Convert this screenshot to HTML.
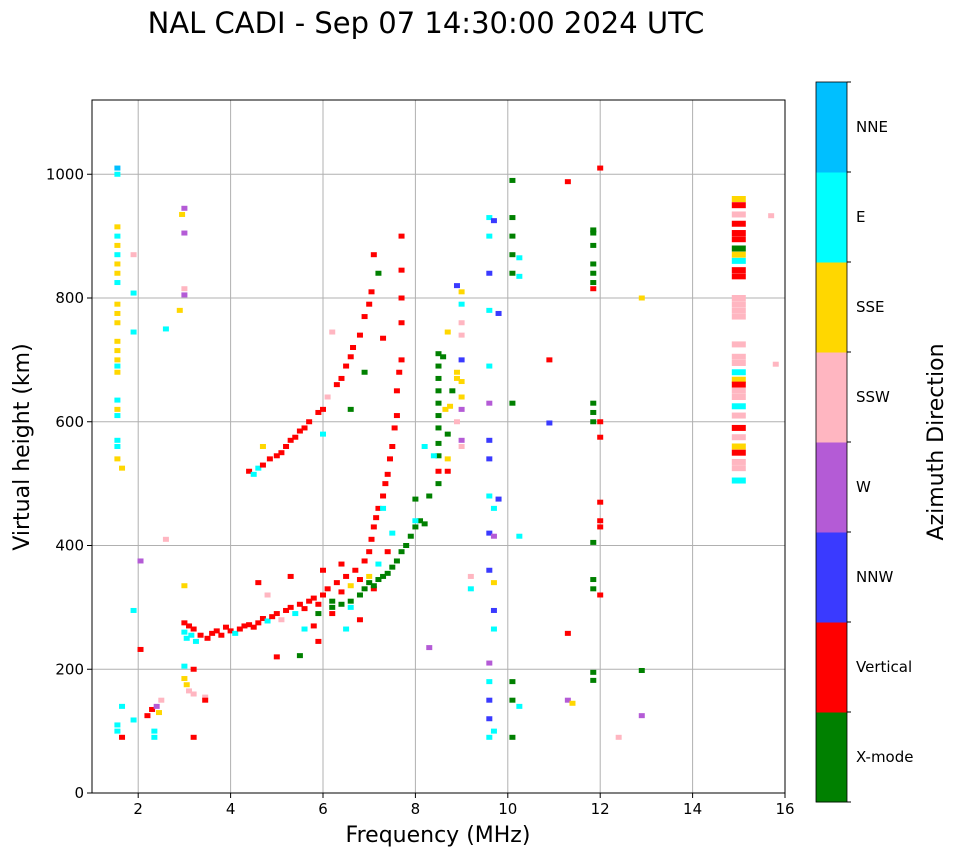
<!DOCTYPE html>
<html><head><meta charset="utf-8">
<style>
body{margin:0;background:#fff;font-family:"DejaVu Sans","Liberation Sans",sans-serif;}
svg text{font-family:"DejaVu Sans","Liberation Sans",sans-serif;}
</style></head>
<body>
<svg id="chart" width="958" height="857" xmlns="http://www.w3.org/2000/svg">
<rect width="958" height="857" fill="#fff"/>
<text x="426" y="33" font-size="29" text-anchor="middle">NAL CADI - Sep 07 14:30:00 2024 UTC</text>
<g id="grid"></g>
<g id="marks"></g>
<rect x="92" y="100" width="693" height="693" fill="none" stroke="#000" stroke-width="1"/>
<g id="axes"></g>
<text x="438" y="842" font-size="22" text-anchor="middle">Frequency (MHz)</text>
<text transform="translate(29,447) rotate(-90)" font-size="22" text-anchor="middle">Virtual height (km)</text>
<g id="colorbar"></g>
<text transform="translate(943,442) rotate(-90)" font-size="22" text-anchor="middle">Azimuth Direction</text>
</svg>
<script>
const xTicks=[2,4,6,8,10,12,14,16];
const yTicks=[0,200,400,600,800,1000];
const dirNames=["X-mode","Vertical","NNW","W","SSW","SSE","E","NNE"];
const dirColors=["#008000","#ff0000","#3a3aff","#b45bd6","#ffb6c1","#ffd700","#00ffff","#00bfff"];
const freqs=[1.55,1.55,1.55,1.55,1.55,1.55,1.55,1.55,1.55,1.55,1.55,1.55,1.55,1.55,1.55,1.55,1.55,1.55,1.55,1.55,1.55,1.55,1.55,1.65,1.55,1.55,1.65,1.65,1.9,1.9,1.9,1.9,1.9,2.05,2.05,2.2,2.3,2.4,2.45,2.35,2.35,2.5,2.6,2.6,2.9,2.95,3.0,3.0,3.0,3.0,3.0,3.0,3.0,3.05,3.1,3.15,3.2,3.25,3.0,3.0,3.05,3.1,3.2,3.2,3.2,3.45,3.45,
3.35,3.5,3.6,3.7,3.8,3.9,4.0,4.1,4.2,4.3,4.4,4.5,4.6,4.7,4.8,4.9,5.0,5.1,5.2,5.3,5.4,5.5,5.6,5.7,5.8,5.9,6.0,6.1,6.2,6.3,6.4,6.5,6.6,6.7,6.8,6.9,7.0,7.05,7.1,7.15,7.2,7.3,7.35,7.4,7.45,7.5,7.55,7.6,7.6,7.65,7.7,7.7,7.7,7.7,7.7,
4.6,4.8,5.0,5.3,5.6,5.9,6.0,6.5,6.6,6.8,7.0,7.1,7.2,7.4,7.5,7.3,6.4,6.2,5.8,
5.5,5.9,6.2,6.4,6.6,6.8,6.9,7.0,7.1,7.2,7.3,7.4,7.5,7.6,7.7,7.8,7.9,8.0,8.1,8.2,
8.5,8.5,8.5,8.5,8.5,8.5,8.5,8.5,8.5,8.5,8.5,8.4,8.3,8.2,8.0,8.65,8.7,8.7,8.7,8.7,8.8,8.9,8.9,8.9,9.0,9.0,9.0,9.0,9.0,9.0,9.0,9.0,9.0,9.0,8.6,8.9,8.75,8.0,8.3,9.2,9.2,
4.4,4.5,4.6,4.7,4.85,5.0,5.1,5.2,5.3,5.4,5.5,5.6,5.7,5.9,6.0,6.1,6.0,6.3,6.4,6.5,6.6,6.65,6.8,6.9,7.0,7.05,6.2,6.6,6.9,7.1,7.2,7.3,4.7,
9.6,9.6,9.7,9.6,9.6,9.8,9.6,9.6,9.6,9.6,9.6,9.8,9.7,9.6,9.7,9.6,9.7,9.7,9.7,9.6,9.6,9.6,9.6,9.7,9.6,10.1,10.1,10.1,10.1,10.1,10.25,10.25,10.1,10.25,10.1,10.1,10.25,10.1,10.9,10.9,11.3,11.3,11.3,11.4,11.85,11.85,11.85,11.85,11.85,11.85,11.85,11.85,11.85,11.85,11.85,11.85,11.85,11.85,11.85,12.0,12.0,12.0,12.0,12.0,12.0,12.0,12.4,12.9,12.9,12.9,15.7,15.8,
15,15,15,15,15,15,15,15,15,15,15,15,15,15,15,15,15,15,15,15,15,15,15,15,15,15,15,15,15,15,15,15];
const heights=[1010,1000,915,900,885,870,855,840,825,790,775,760,730,715,700,690,680,635,620,610,570,560,540,525,110,100,90,140,870,808,745,295,118,375,232,125,135,140,130,100,90,150,410,750,780,935,945,905,815,805,335,275,260,250,270,255,265,245,205,185,175,165,160,200,90,155,150,
255,250,258,262,255,268,262,258,265,270,272,268,275,282,278,285,290,280,295,300,290,305,298,310,315,305,320,330,310,340,325,350,335,360,345,375,390,410,430,445,460,480,500,515,540,560,590,610,650,680,700,760,800,845,900,
340,320,220,350,265,245,360,265,300,280,350,330,370,390,420,460,370,290,270,
222,290,300,305,310,320,330,340,335,345,350,355,365,375,390,400,415,430,440,435,
710,690,670,650,630,610,590,565,545,520,500,545,480,560,475,620,580,540,745,520,650,820,680,600,790,810,760,740,700,665,640,620,570,560,705,670,625,440,235,330,350,
520,515,525,530,540,545,550,560,570,575,585,590,600,615,620,640,580,660,670,690,705,720,740,770,790,810,745,620,680,870,840,735,560,
930,900,925,840,780,775,690,630,570,540,480,475,460,420,415,360,340,295,265,210,180,150,120,100,90,990,930,900,870,840,835,865,630,415,180,150,140,90,700,598,988,258,150,145,910,905,885,855,840,825,815,630,615,600,405,345,330,195,182,1010,600,575,470,440,430,320,90,800,198,125,933,693,
960,950,935,920,905,895,880,870,860,845,835,800,790,780,770,725,705,695,680,668,660,650,640,625,610,590,575,560,550,535,525,505];
const dirs=[7,6,5,6,5,6,5,5,6,5,5,5,5,5,5,6,5,6,5,6,6,6,5,5,6,6,1,6,4,6,6,6,6,3,1,1,1,3,5,6,6,4,4,6,5,5,3,3,4,3,5,1,6,6,1,6,1,6,6,5,5,4,4,1,1,4,1,
1,1,1,1,1,1,1,6,1,1,1,1,1,1,6,1,1,4,1,1,6,1,1,1,1,1,1,1,0,1,1,1,5,1,1,1,1,1,1,1,1,1,1,1,1,1,1,1,1,1,1,1,1,1,1,
1,4,1,1,6,1,1,6,6,1,5,1,6,1,6,6,1,1,1,
0,0,0,0,0,0,0,0,0,0,0,0,0,0,0,0,0,0,0,0,
0,0,0,0,0,0,0,0,0,1,0,6,0,6,0,5,0,5,5,1,0,2,5,4,6,5,4,4,2,5,5,3,3,4,0,5,5,6,3,6,4,
1,6,6,1,1,1,1,1,1,1,1,1,1,1,1,4,6,1,1,1,1,1,1,1,1,1,4,0,0,1,0,1,5,
6,6,2,2,6,2,6,3,2,2,6,2,6,2,3,2,5,2,6,3,6,2,2,6,6,0,0,0,0,0,6,6,0,6,0,0,6,0,1,2,1,1,3,5,0,0,0,0,0,0,1,0,0,0,0,0,0,0,0,1,1,1,1,1,1,1,4,5,0,3,4,4,
5,1,4,1,1,1,0,5,6,1,1,4,4,4,4,4,4,4,6,5,1,4,4,6,4,1,4,5,1,4,4,6];
const NS="http://www.w3.org/2000/svg";
const X0=92,X1=785,Y0=793,Y1=100;
function xs(f){return X0+(f-1)/(16-1)*(X1-X0);}
function ys(h){return Y0-(h/1120)*(Y0-Y1);}
function mk(tag,attrs,parent){const e=document.createElementNS(NS,tag);for(const k in attrs)e.setAttribute(k,attrs[k]);parent.appendChild(e);return e;}
const grid=document.getElementById('grid'),axes=document.getElementById('axes'),marks=document.getElementById('marks'),cb=document.getElementById('colorbar');
xTicks.forEach(t=>{const x=xs(t);
 if(t<16){const g=mk('line',{x1:x,x2:x,y1:Y1,y2:Y0,stroke:'#b0b0b0','stroke-width':1},grid);
 
 }
 mk('line',{x1:x,x2:x,y1:Y0,y2:Y0+5,stroke:'#000'},axes);
 const tx=mk('text',{x:x,y:Y0+21,'font-size':15,'text-anchor':'middle'},axes);tx.textContent=t;
 
 });
yTicks.forEach(t=>{const y=ys(t);
 if(t>0){const g=mk('line',{x1:X0,x2:X1,y1:y,y2:y,stroke:'#b0b0b0','stroke-width':1},grid);
 
 }
 mk('line',{x1:X0-5,x2:X0,y1:y,y2:y,stroke:'#000'},axes);
 const tx=mk('text',{x:X0-8,y:y+5,'font-size':15,'text-anchor':'end'},axes);tx.textContent=t;
 
 });
for(let i=0;i<freqs.length;i++){
 const big=(freqs[i]>14.9&&freqs[i]<15.1);
 const w=big?14:6,h=big?6:5;
 const r=mk('rect',{x:xs(freqs[i])-w/2,y:ys(heights[i])-h/2,width:w,height:h,fill:dirColors[dirs[i]]},marks);
 
 }
const CX=816,CW=31,CT=82,CB=802,seg=(CB-CT)/dirNames.length;
dirNames.forEach((n,i)=>{const yTop=CB-(i+1)*seg;
 const r=mk('rect',{x:CX,y:yTop,width:CW,height:seg+0.5,fill:dirColors[i]},cb);
 
 
 const tx=mk('text',{x:CX+CW+9,y:yTop+seg/2+5,'font-size':15},cb);tx.textContent=n;
 
 });
for(let i=0;i<=dirNames.length;i++){const y=CT+i*seg;mk('line',{x1:CX+CW,x2:CX+CW+4,y1:y,y2:y,stroke:'#000'},cb);}
mk('rect',{x:CX,y:CT,width:CW,height:CB-CT,fill:'none',stroke:'#000','stroke-width':0.8},cb);
</script>
</body></html>
